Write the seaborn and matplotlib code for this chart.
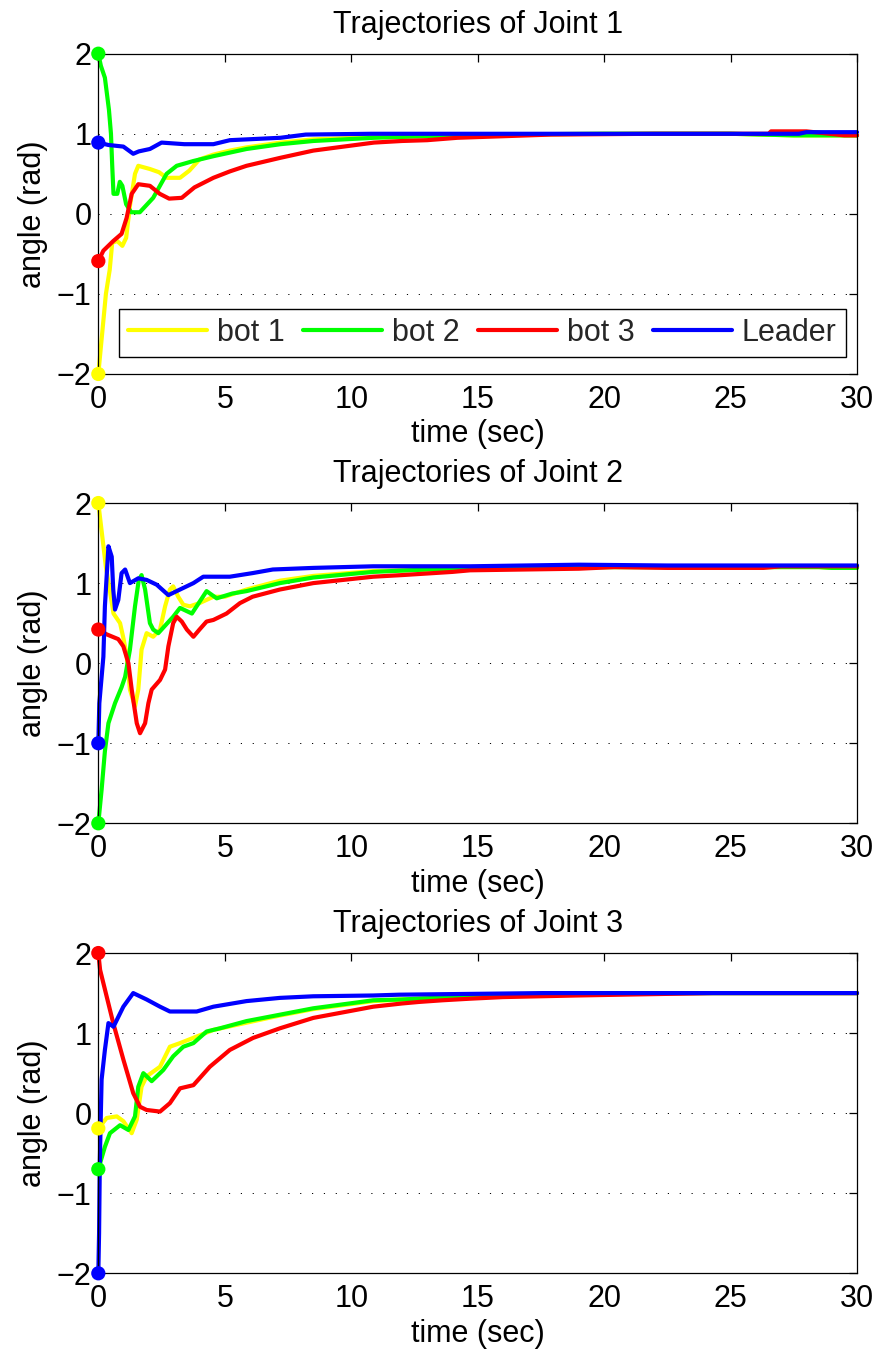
import matplotlib
matplotlib.use("Agg")
import matplotlib.pyplot as plt
import pandas as pd
import seaborn as sns

# ---------------- data ----------------
series_names = ["bot 1", "bot 2", "bot 3", "Leader"]
series_colors = ["#ffff00", "#00ff00", "#ff0000", "#0000ff"]
titles = ["Trajectories of Joint 1", "Trajectories of Joint 2", "Trajectories of Joint 3"]
x_ticks = [0, 5, 10, 15, 20, 25, 30]
y_ticks = [-2, -1, 0, 1, 2]

# Joint 1
j1_bot1_t = [0, 0.12, 0.3, 0.45, 0.55, 0.75, 0.95, 1.1, 1.25, 1.45, 1.58, 2.04, 2.4, 2.7, 3.23, 3.6, 4.0, 4.55, 5.2, 5.86, 7.2, 8.5, 10.9, 13, 15, 20, 25, 27.5, 30]
j1_bot1_y = [-2.0, -1.6, -1.0, -0.7, -0.36, -0.34, -0.4, -0.3, 0.1, 0.5, 0.6, 0.56, 0.52, 0.45, 0.45, 0.54, 0.68, 0.74, 0.79, 0.83, 0.89, 0.93, 0.96, 0.98, 0.99, 1.0, 1.0, 0.98, 0.98]
j1_bot2_t = [0, 0.1, 0.26, 0.42, 0.5, 0.55, 0.6, 0.75, 0.85, 0.95, 1.1, 1.3, 1.64, 2.17, 2.7, 3.1, 3.76, 4.55, 5.86, 7.2, 8.5, 10.9, 13, 15, 20, 25, 27.5, 30]
j1_bot2_y = [2.0, 1.85, 1.7, 1.3, 1.0, 0.6, 0.25, 0.25, 0.4, 0.35, 0.12, 0.02, 0.02, 0.2, 0.5, 0.6, 0.66, 0.72, 0.81, 0.87, 0.91, 0.95, 0.97, 0.99, 1.0, 1.0, 0.98, 0.98]
j1_bot3_t = [0, 0.2, 0.59, 0.92, 1.12, 1.32, 1.58, 2.04, 2.43, 2.8, 3.3, 3.8, 4.55, 5.2, 5.86, 7.2, 8.5, 10.9, 12, 13, 14.2, 17.9, 22, 26.5, 26.6, 28.0, 29.5, 30]
j1_bot3_y = [-0.59, -0.46, -0.34, -0.25, -0.05, 0.25, 0.37, 0.35, 0.25, 0.19, 0.2, 0.33, 0.45, 0.53, 0.6, 0.7, 0.79, 0.89, 0.91, 0.92, 0.95, 0.99, 1.0, 1.0, 1.03, 1.03, 0.98, 0.98]
j1_lead_t = [0, 0.4, 0.99, 1.38, 1.6, 2.04, 2.5, 3.4, 4.55, 5.2, 7.2, 8.2, 10.8, 27.7, 28.0, 30]
j1_lead_y = [0.89, 0.86, 0.84, 0.75, 0.78, 0.81, 0.89, 0.87, 0.87, 0.92, 0.95, 0.99, 1.0, 1.0, 1.02, 1.02]

# Joint 2
j2_bot1_t = [0, 0.15, 0.3, 0.45, 0.6, 0.86, 1.0, 1.12, 1.25, 1.45, 1.58, 1.71, 1.91, 2.17, 2.44, 2.64, 2.83, 2.96, 3.16, 3.36, 3.62, 4.0, 4.55, 5.0, 5.86, 7.18, 8.5, 10.87, 13, 15, 19, 25, 28.5, 29, 30]
j2_bot1_y = [2.0, 1.6, 1.2, 0.92, 0.62, 0.5, 0.3, 0.1, -0.33, -0.54, -0.33, 0.17, 0.375, 0.33, 0.42, 0.71, 0.92, 0.96, 0.83, 0.73, 0.71, 0.75, 0.83, 0.83, 0.92, 1.03, 1.09, 1.15, 1.17, 1.18, 1.2, 1.2, 1.2, 1.19, 1.19]
j2_bot2_t = [0, 0.13, 0.26, 0.4, 0.66, 0.92, 1.06, 1.25, 1.45, 1.6, 1.71, 1.85, 2.04, 2.17, 2.37, 2.96, 3.23, 3.7, 4.28, 4.68, 5.3, 5.86, 7.18, 8.5, 10.87, 13, 15, 19, 25, 28.5, 29, 30]
j2_bot2_y = [-2.0, -1.58, -1.1, -0.75, -0.5, -0.3, -0.17, 0.17, 0.71, 1.04, 1.1, 0.92, 0.5, 0.42, 0.375, 0.58, 0.69, 0.62, 0.9, 0.81, 0.87, 0.9, 1.0, 1.07, 1.14, 1.17, 1.18, 1.2, 1.2, 1.2, 1.19, 1.19]
j2_bot3_t = [0, 0.33, 0.79, 0.99, 1.19, 1.32, 1.52, 1.65, 1.85, 1.98, 2.11, 2.44, 2.64, 2.77, 2.96, 3.1, 3.3, 3.5, 3.76, 4.0, 4.28, 4.55, 5.07, 5.6, 6.1, 7.18, 8.5, 10.87, 12, 13, 14, 14.7, 19, 20.4, 22.5, 26.3, 27, 30]
j2_bot3_y = [0.42, 0.36, 0.3, 0.21, 0.0, -0.33, -0.75, -0.875, -0.75, -0.5, -0.33, -0.21, -0.08, 0.21, 0.5, 0.58, 0.52, 0.42, 0.33, 0.42, 0.52, 0.54, 0.62, 0.75, 0.83, 0.92, 1.0, 1.08, 1.1, 1.12, 1.14, 1.16, 1.18, 1.2, 1.19, 1.19, 1.21, 1.21]
j2_lead_t = [0, 0.04, 0.2, 0.26, 0.4, 0.53, 0.59, 0.66, 0.79, 0.92, 1.06, 1.25, 1.58, 1.91, 2.31, 2.77, 3.23, 3.76, 4.15, 5.2, 6.1, 6.9, 8.5, 10.87, 14.7, 19, 22.5, 30]
j2_lead_y = [-1.0, -0.5, 0.08, 0.71, 1.46, 1.33, 0.92, 0.67, 0.79, 1.125, 1.17, 1.0, 1.06, 1.04, 0.98, 0.85, 0.92, 1.0, 1.08, 1.08, 1.125, 1.17, 1.19, 1.21, 1.21, 1.23, 1.22, 1.22]

# Joint 3
j3_bot1_t = [0, 0.33, 0.73, 0.99, 1.32, 1.52, 1.71, 1.91, 2.44, 2.83, 3.23, 4.55, 5.86, 7.18, 8.5, 10.87, 12, 13.3, 14.7, 17.6, 20, 30]
j3_bot1_y = [-0.19, -0.06, -0.04, -0.1, -0.25, -0.08, 0.33, 0.46, 0.58, 0.83, 0.875, 1.04, 1.13, 1.22, 1.3, 1.4, 1.42, 1.44, 1.46, 1.49, 1.5, 1.5]
j3_bot2_t = [0, 0.26, 0.46, 0.86, 1.19, 1.45, 1.58, 1.78, 2.11, 2.57, 2.96, 3.36, 3.76, 4.28, 4.81, 5.86, 7.18, 8.5, 10.87, 12, 13.3, 14.7, 17.6, 20, 30]
j3_bot2_y = [-0.7, -0.42, -0.25, -0.15, -0.21, -0.04, 0.33, 0.5, 0.4, 0.54, 0.71, 0.83, 0.875, 1.02, 1.06, 1.15, 1.23, 1.31, 1.41, 1.42, 1.44, 1.46, 1.49, 1.5, 1.5]
j3_bot3_t = [0, 0.07, 0.59, 0.99, 1.38, 1.65, 1.91, 2.44, 2.83, 3.23, 3.76, 4.41, 5.2, 6.12, 7.18, 8.5, 10.87, 12, 12.7, 13.6, 14.7, 16, 18.9, 24.3, 30]
j3_bot3_y = [2.0, 1.79, 1.125, 0.67, 0.25, 0.08, 0.04, 0.02, 0.125, 0.31, 0.35, 0.58, 0.79, 0.94, 1.06, 1.19, 1.33, 1.37, 1.39, 1.41, 1.43, 1.45, 1.47, 1.5, 1.5]
j3_lead_t = [0, 0.03, 0.06, 0.1, 0.13, 0.26, 0.4, 0.6, 0.99, 1.38, 1.91, 2.44, 2.83, 3.89, 4.55, 5.86, 7.18, 8.5, 10.87, 11.9, 17.6, 30]
j3_lead_y = [-2.0, -1.5, -0.6, 0.0, 0.42, 0.79, 1.125, 1.08, 1.33, 1.5, 1.42, 1.33, 1.27, 1.27, 1.33, 1.4, 1.44, 1.46, 1.47, 1.48, 1.5, 1.5]

joints = [
    [(j1_bot1_t, j1_bot1_y), (j1_bot2_t, j1_bot2_y), (j1_bot3_t, j1_bot3_y), (j1_lead_t, j1_lead_y)],
    [(j2_bot1_t, j2_bot1_y), (j2_bot2_t, j2_bot2_y), (j2_bot3_t, j2_bot3_y), (j2_lead_t, j2_lead_y)],
    [(j3_bot1_t, j3_bot1_y), (j3_bot2_t, j3_bot2_y), (j3_bot3_t, j3_bot3_y), (j3_lead_t, j3_lead_y)],
]

# ---------------- style ----------------
sns.set_theme(style="white")
plt.rcParams["font.family"] = ["Liberation Sans", "DejaVu Sans"]
FS = 22
palette = dict(zip(series_names, series_colors))

fig = plt.figure(figsize=(8.81, 13.53), dpi=100)
left, width, height = 0.1116, 0.8612, 0.2367
bottoms = [0.7236, 0.3915, 0.0589]

for k, (series, title) in enumerate(zip(joints, titles)):
    ax = fig.add_axes([left, bottoms[k], width, height])
    frames = []
    for name, (t, y) in zip(series_names, series):
        frames.append(pd.DataFrame({"t": t, "angle": y, "series": name}))
    df = pd.concat(frames, ignore_index=True)
    sns.lineplot(data=df, x="t", y="angle", hue="series", hue_order=series_names,
                 palette=palette, estimator=None, sort=False, lw=3.0, ax=ax,
                 legend=False, clip_on=False)
    start = df.groupby("series", sort=False).head(1)
    sns.scatterplot(data=start, x="t", y="angle", hue="series", hue_order=series_names,
                    palette=palette, s=105, linewidth=0, ax=ax, legend=False,
                    clip_on=False, zorder=6)
    ax.set_xlim(0, 30)
    ax.set_ylim(-2, 2)
    ax.set_xticks(x_ticks)
    ax.set_yticks(y_ticks)
    ax.yaxis.grid(True, linestyle=(0, (1.2, 11)), color="black", lw=0.7)
    ax.xaxis.grid(False)
    ax.tick_params(direction="in", top=True, right=True, length=6, width=0.9,
                   labelsize=FS, colors="black")
    ax.tick_params(axis="x", pad=8)
    ax.tick_params(axis="y", pad=5)
    for sp in ax.spines.values():
        sp.set_color("black")
        sp.set_linewidth(0.9)
    ax.set_title(title, fontsize=FS, pad=15, color="black")
    ax.set_xlabel("time (sec)", fontsize=FS, labelpad=3, color="black")
    ax.set_ylabel("angle (rad)", fontsize=FS, labelpad=6, color="black")
    if k == 0:
        handles = ax.get_lines()[:4]
        leg = ax.legend(handles, series_names, loc="lower left", ncol=4,
                        bbox_to_anchor=(0.027, 0.053, 0.958, 0.16), mode="expand",
                        fontsize=FS, handlelength=2.6, handletextpad=0.3,
                        columnspacing=0.5, borderaxespad=0, frameon=True,
                        fancybox=False, borderpad=0.3)
        leg.get_frame().set_edgecolor("black")
        leg.get_frame().set_linewidth(1.0)
        leg.get_frame().set_alpha(1)

fig.savefig("out.png", dpi=100)
